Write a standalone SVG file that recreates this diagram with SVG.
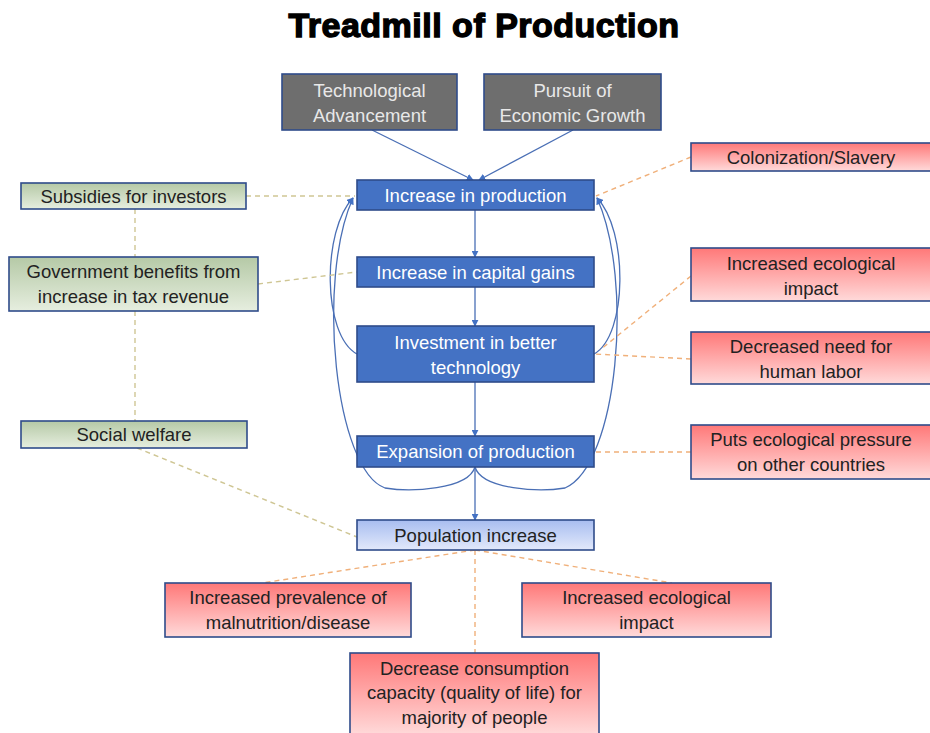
<svg xmlns="http://www.w3.org/2000/svg" width="930" height="733" viewBox="0 0 930 733">
<defs>
<linearGradient id="gRed" x1="0" y1="0" x2="0" y2="1"><stop offset="0" stop-color="#ff7878"/><stop offset="1" stop-color="#ffdada"/></linearGradient>
<linearGradient id="gGreen" x1="0" y1="0" x2="0" y2="1"><stop offset="0" stop-color="#b5c9a6"/><stop offset="1" stop-color="#e6eedf"/></linearGradient>
<linearGradient id="gPop" x1="0" y1="0" x2="0" y2="1"><stop offset="0" stop-color="#a8bdf0"/><stop offset="1" stop-color="#e2e9fb"/></linearGradient>
<marker id="arr" viewBox="0 0 10 10" refX="9" refY="5" markerWidth="7" markerHeight="7" orient="auto-start-reverse" markerUnits="userSpaceOnUse"><path d="M0,0 L10,5 L0,10 z" fill="#4472c4"/></marker>
<style>
.box{stroke:#2f4b8a;stroke-width:1.6}
.gray{fill:#6e6e6e}
.blue{fill:#4472c4}
.red{fill:url(#gRed)}
.green{fill:url(#gGreen)}
.pop{fill:url(#gPop)}
text{font-family:"Liberation Sans",Arial,sans-serif;font-size:18.5px;text-anchor:middle}
.lt{fill:#ffffff}
.lg{fill:#e8e8e8}
.dk{fill:#222222}
.solid{fill:none;stroke:#4a6fb5;stroke-width:1.3}
.dashO{fill:none;stroke:#f0b07a;stroke-width:1.4;stroke-dasharray:5 4}
.dashG{fill:none;stroke:#cfc694;stroke-width:1.4;stroke-dasharray:5 4}
</style>
</defs>
<rect width="930" height="733" fill="#ffffff"/>
<text x="484" y="37" style="font-size:34px;font-weight:900;fill:#000;stroke:#000;stroke-width:1.4;letter-spacing:0.5px">Treadmill of Production</text>

<g id="connectors">
<line class="solid" x1="372" y1="130" x2="473" y2="180" marker-end="url(#arr)"/>
<line class="solid" x1="573" y1="130" x2="479" y2="180" marker-end="url(#arr)"/>
<line class="solid" x1="475" y1="210" x2="475" y2="257" marker-end="url(#arr)"/>
<line class="solid" x1="475" y1="287" x2="475" y2="326" marker-end="url(#arr)"/>
<line class="solid" x1="475" y1="382" x2="475" y2="436" marker-end="url(#arr)"/>
<line class="solid" x1="475" y1="467" x2="475" y2="520" marker-end="url(#arr)"/>
<path class="solid" d="M357,354 C322,335 322,230 353,198" marker-end="url(#arr)"/>
<path class="solid" d="M475,467 C468,490 410,492 385,488 C335,470 316,280 353,198" marker-end="url(#arr)"/>
<path class="solid" d="M594,354 C628,335 628,230 597,198" marker-end="url(#arr)"/>
<path class="solid" d="M475,467 C482,490 540,492 565,488 C618,465 634,280 597,198" marker-end="url(#arr)"/>
<line class="dashG" x1="246" y1="196" x2="355" y2="196"/>
<line class="dashG" x1="135" y1="209" x2="135" y2="257"/>
<line class="dashG" x1="258" y1="284" x2="357" y2="272"/>
<line class="dashG" x1="135" y1="311" x2="135" y2="421"/>
<line class="dashG" x1="137" y1="448" x2="357" y2="537"/>
<line class="dashO" x1="691" y1="157" x2="596" y2="196"/>
<line class="dashO" x1="691" y1="276" x2="600" y2="350"/>
<line class="dashO" x1="691" y1="359" x2="594" y2="354"/>
<line class="dashO" x1="691" y1="452" x2="594" y2="452"/>
<line class="dashO" x1="475" y1="550" x2="262" y2="583"/>
<line class="dashO" x1="475" y1="550" x2="672" y2="583"/>
<line class="dashO" x1="475" y1="550" x2="475" y2="653"/>
</g>

<g id="tech"><rect class="box gray" x="282" y="74" width="175" height="56"/><text class="lg" x="369.5" y="97">Technological</text><text class="lg" x="369.5" y="122">Advancement</text></g>
<g id="pursuit"><rect class="box gray" x="484" y="74" width="177" height="56"/><text class="lg" x="572.5" y="97">Pursuit of</text><text class="lg" x="572.5" y="122">Economic Growth</text></g>

<g id="prod"><rect class="box blue" x="357" y="180" width="237" height="30"/><text class="lt" x="475.5" y="202">Increase in production</text></g>
<g id="capital"><rect class="box blue" x="357" y="257" width="237" height="30"/><text class="lt" x="475.5" y="279">Increase in capital gains</text></g>
<g id="invest"><rect class="box blue" x="357" y="326" width="237" height="56"/><text class="lt" x="475.5" y="349">Investment in better</text><text class="lt" x="475.5" y="374">technology</text></g>
<g id="expansion"><rect class="box blue" x="357" y="436" width="237" height="31"/><text class="lt" x="475.5" y="458">Expansion of production</text></g>
<g id="population"><rect class="box pop" x="357" y="520" width="237" height="30"/><text class="dk" x="475.5" y="542">Population increase</text></g>

<g id="subsidies"><rect class="box green" x="21" y="183" width="225" height="26"/><text class="dk" x="133.5" y="203">Subsidies for investors</text></g>
<g id="government"><rect class="box green" x="9" y="257" width="249" height="54"/><text class="dk" x="133.5" y="278">Government benefits from</text><text class="dk" x="133.5" y="303">increase in tax revenue</text></g>
<g id="welfare"><rect class="box green" x="21" y="421" width="226" height="27"/><text class="dk" x="134" y="441">Social welfare</text></g>

<g id="colonization"><rect class="box red" x="691" y="143" width="240" height="28"/><text class="dk" x="811" y="164">Colonization/Slavery</text></g>
<g id="eco1"><rect class="box red" x="691" y="248" width="240" height="53"/><text class="dk" x="811" y="270">Increased ecological</text><text class="dk" x="811" y="295">impact</text></g>
<g id="labor"><rect class="box red" x="691" y="332" width="240" height="52"/><text class="dk" x="811" y="353">Decreased need for</text><text class="dk" x="811" y="378">human labor</text></g>
<g id="pressure"><rect class="box red" x="691" y="425" width="240" height="54"/><text class="dk" x="811" y="446">Puts ecological pressure</text><text class="dk" x="811" y="471">on other countries</text></g>

<g id="malnutrition"><rect class="box red" x="165" y="583" width="246" height="54"/><text class="dk" x="288" y="604">Increased prevalence of</text><text class="dk" x="288" y="629">malnutrition/disease</text></g>
<g id="eco2"><rect class="box red" x="522" y="583" width="249" height="54"/><text class="dk" x="646.5" y="604">Increased ecological</text><text class="dk" x="646.5" y="629">impact</text></g>
<g id="consumption"><rect class="box red" x="350" y="653" width="249" height="82"/><text class="dk" x="474.5" y="675">Decrease consumption</text><text class="dk" x="474.5" y="699">capacity (quality of life) for</text><text class="dk" x="474.5" y="724">majority of people</text></g>
</svg>
